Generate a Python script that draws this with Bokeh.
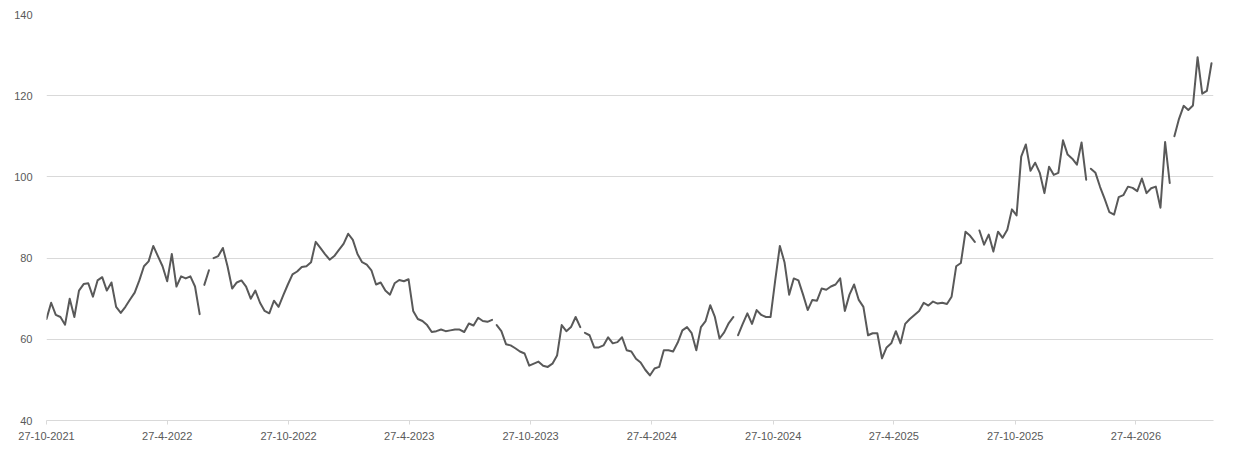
import pandas as pd
from bokeh.plotting import figure
from bokeh.models import FixedTicker, CustomJSTickFormatter, Range1d
from bokeh.embed import file_html
from bokeh.resources import INLINE

# Data section ################################################################

start_date = "2021-10-27"
end_date = "2026-08-22"
tick_dates = ["2021-10-27", "2022-04-27", "2022-10-27", "2023-04-27", "2023-10-27",
              "2024-04-27", "2024-10-27", "2025-04-27", "2025-10-27", "2026-04-27"]
y_ticks = [40, 60, 80, 100, 120, 140]

# weekly values
prices = [
    65, 69, 66, 65.5, 63.6, 70, 65.5, 72, 73.6, 73.8,
    70.5, 74.5, 75.3, 72, 74, 68, 66.5, 68, 69.8, 71.5,
    74.5, 78, 79.2, 83, 80.5, 78, 74.3, 81, 73, 75.5,
    75, 75.5, 73, 66.2, 73.4, 77, 80, 80.5, 82.5, 78,
    72.5, 74, 74.5, 73, 70, 72, 69, 67, 66.4, 69.5,
    68, 70.8, 73.5, 76, 76.7, 77.8, 78, 79, 84, 82.5,
    81, 79.6, 80.5, 82, 83.5, 86, 84.5, 81, 79, 78.4,
    77, 73.5, 74, 72, 71, 73.8, 74.6, 74.3, 74.8, 67,
    65, 64.5, 63.5, 61.8, 62, 62.4, 62, 62.2, 62.4, 62.4,
    61.8, 63.9, 63.4, 65.3, 64.5, 64.3, 64.8, 63.5, 62, 58.8,
    58.5, 57.8, 57, 56.5, 53.5, 54, 54.5, 53.5, 53.2, 54,
    56, 63.5, 62, 63, 65.5, 63, 61.6, 61, 58, 58,
    58.5, 60.5, 59, 59.3, 60.5, 57.3, 57, 55.2, 54.3, 52.5,
    51.1, 52.8, 53.2, 57.3, 57.3, 57, 59.2, 62.2, 63, 61.5,
    57.3, 63, 64.5, 68.4, 65.5, 60.2, 61.7, 64, 65.5, 61,
    63.8, 66.4, 63.8, 67.2, 66, 65.5, 65.5, 74.5, 83, 79,
    71, 75, 74.5, 71, 67.2, 69.7, 69.5, 72.5, 72.2, 73,
    73.5, 75, 67, 71, 73.5, 69.7, 68, 61, 61.5, 61.5,
    55.3, 58, 59, 62, 59, 63.8, 65, 66, 67, 69,
    68.3, 69.3, 68.8, 69, 68.7, 70.5, 78, 78.8, 86.5, 85.5,
    84, 86.8, 83.3, 85.8, 81.6, 86.5, 85, 87, 92, 90.5,
    105, 108, 101.5, 103.5, 101, 96, 102.5, 100.5, 101, 109,
    105.5, 104.5, 103, 108.5, 99.3, 102, 101, 97.5, 94.5, 91.3,
    90.7, 95, 95.5, 97.6, 97.3, 96.5, 99.6, 96, 97.2, 97.6,
    92.4, 108.6, 98.5, 110, 114.3, 117.5, 116.5, 117.6, 129.5, 120.5,
    121.2, 128,
]

# the line is broken (missing data) after these weeks
breaks_after = [33, 35, 96, 115, 148, 200, 224, 242]

weeks = pd.date_range(start_date, periods=len(prices), freq="7D")

# Plot section ################################################################

text_color = "#595959"
grid_color = "#d9d9d9"

p = figure(width=1230, height=448, x_axis_type="datetime",
           x_range=Range1d(pd.Timestamp(start_date), pd.Timestamp(end_date)),
           y_range=Range1d(40, 140),
           toolbar_location=None, output_backend="svg",
           min_border_left=46, min_border_right=17,
           min_border_top=14, min_border_bottom=28)
p.outline_line_color = None

edges = [0] + [b + 1 for b in breaks_after] + [len(prices)]
for a, b in zip(edges[:-1], edges[1:]):
    p.line(weeks[a:b], prices[a:b], line_color=text_color, line_width=2,
           line_cap="round", line_join="round")

p.xaxis.ticker = FixedTicker(ticks=[pd.Timestamp(d).value / 1e6 for d in tick_dates])
p.xaxis.formatter = CustomJSTickFormatter(code="""
    const d = new Date(tick);
    return d.getUTCDate() + "-" + (d.getUTCMonth() + 1) + "-" + d.getUTCFullYear();
""")
p.xaxis.axis_line_color = grid_color
p.xaxis.major_tick_line_color = grid_color
p.xaxis.major_tick_out = 4
p.xaxis.major_tick_in = 0
p.xaxis.major_label_standoff = 7

p.yaxis.ticker = FixedTicker(ticks=y_ticks)
p.yaxis.axis_line_color = None
p.yaxis.major_tick_line_color = None
p.yaxis.minor_tick_line_color = None
p.yaxis.major_label_standoff = 8

for ax in [p.xaxis, p.yaxis]:
    ax.major_label_text_font = "Liberation Sans"
    ax.major_label_text_font_size = "11px"
    ax.major_label_text_color = text_color

p.xgrid.visible = False
p.ygrid.grid_line_color = grid_color

open("out.html", "w").write(file_html(p, INLINE))
